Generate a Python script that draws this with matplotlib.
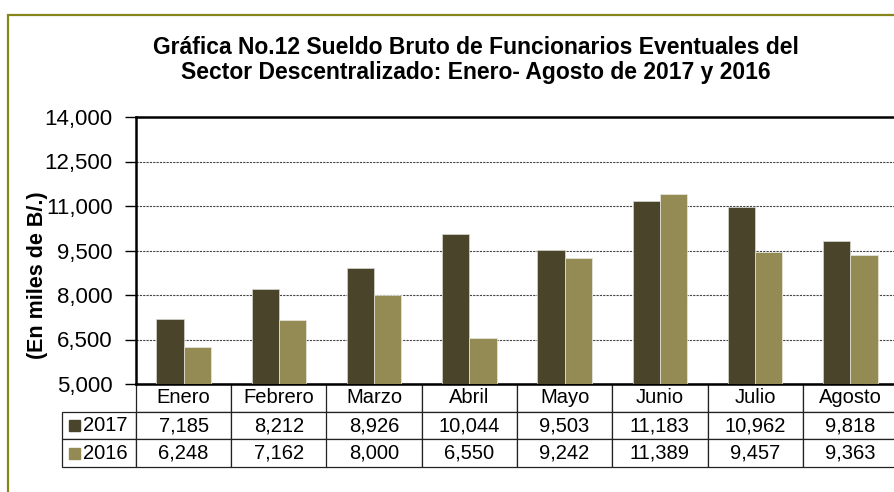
import matplotlib.pyplot as plt
from matplotlib.patches import Rectangle

plt.rcParams['font.family'] = ['Liberation Sans', 'DejaVu Sans']

meses = ['Enero', 'Febrero', 'Marzo', 'Abril', 'Mayo', 'Junio', 'Julio', 'Agosto']
sueldo_2017 = [7185, 8212, 8926, 10044, 9503, 11183, 10962, 9818]
sueldo_2016 = [6248, 7162, 8000, 6550, 9242, 11389, 9457, 9363]
anios = ['2017', '2016']
y_ticks = [5000, 6500, 8000, 9500, 11000, 12500, 14000]

color_2017 = '#4a452a'
color_2016 = '#948a54'

W, H = 894, 492
fig = plt.figure(figsize=(W / 100, H / 100), dpi=100)

# frame around the whole chart (cropped at right/bottom like the original)
fig.add_artist(Rectangle((8 / W, -0.1), 1.2, 1 - 15 / H + 0.1,
                         transform=fig.transFigure, fill=False,
                         edgecolor='#86861a', lw=1.6))

ax_l, ax_r, ax_t, ax_b = 136, 898, 117, 384
ax = fig.add_axes([ax_l / W, 1 - ax_b / H, (ax_r - ax_l) / W, (ax_b - ax_t) / H])

x = list(range(len(meses)))
bw = 0.287
ax.bar([i - bw / 2 for i in x], sueldo_2017, bw, color=color_2017,
       edgecolor='#d8d8d0', lw=0.5, zorder=3)
ax.bar([i + bw / 2 for i in x], sueldo_2016, bw, color=color_2016,
       edgecolor='#e8e8e0', lw=0.5, zorder=3)

ax.set_xlim(-0.5, len(meses) - 0.5)
ax.set_ylim(5000, 14000)
ax.set_yticks(y_ticks)
ax.set_yticklabels([f'{v:,}' for v in y_ticks], fontsize=16)
ax.set_xticks([])
ax.tick_params(axis='y', direction='out', length=8, width=1, pad=9)
ax.yaxis.grid(True, linestyle=(0, (2, 1)), color='#444444', lw=0.8, zorder=0)
for s in ['left', 'top', 'bottom']:
    ax.spines[s].set_linewidth(1.8)
ax.spines['right'].set_visible(False)

# data table below the axis (first column holds the year labels)
ax_w = ax_r - ax_l
ax_h = ax_b - ax_t
lab_w = 74
tbl_h = 83
filas = [[a] + [f'{v:,}' for v in serie]
         for a, serie in zip(anios, [sueldo_2017, sueldo_2016])]
tbl = ax.table(cellText=filas, colLabels=[''] + meses,
               cellLoc='center', colLoc='center',
               colWidths=[lab_w / ax_w] + [1 / len(meses)] * len(meses),
               bbox=[-lab_w / ax_w, -tbl_h / ax_h, 1 + lab_w / ax_w, tbl_h / ax_h])
tbl.auto_set_font_size(False)
tbl.set_fontsize(14.5)
for (r, c), cell in tbl.get_celld().items():
    cell.set_edgecolor('#222222')
    cell.set_linewidth(0.9)
    if c == 0:
        if r == 0:
            cell.visible_edges = ''
        else:
            cell._loc = 'left'
            cell.get_text().set_horizontalalignment('left')
            cell.PAD = 0.28

# legend squares in the row labels
sq = 11
for k, col in enumerate([color_2017, color_2016]):
    yc = 425 + 28 * k
    ax.add_patch(Rectangle(((69 - ax_l) / ax_w, (ax_b - yc - sq / 2) / ax_h),
                           sq / ax_w, sq / ax_h, transform=ax.transAxes,
                           color=col, clip_on=False))

fig.text(476 / W, 1 - 60 / H,
         'Gráfica No.12 Sueldo Bruto de Funcionarios Eventuales del\n'
         'Sector Descentralizado: Enero- Agosto de 2017 y 2016',
         ha='center', va='center', fontsize=16.5, fontweight='bold',
         linespacing=1.1)
fig.text(38 / W, 1 - 275 / H, '(En miles de B/.)', rotation=90,
         ha='center', va='center', fontsize=15.5, fontweight='bold')

fig.savefig('out.png', dpi=100)
